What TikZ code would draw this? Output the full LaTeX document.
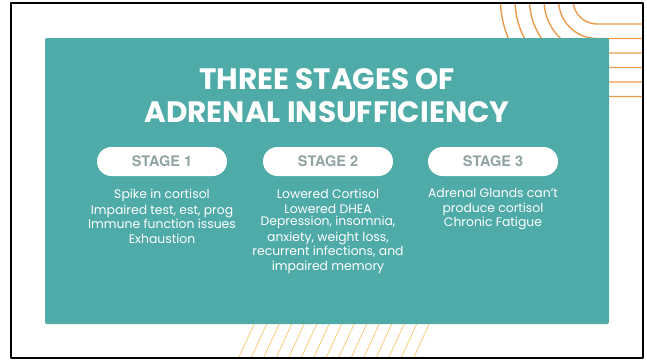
\documentclass[tikz,border=0pt]{standalone}
\usepackage{fontspec}
\setmainfont{Poppins}
\newfontfamily\stagefont{TeX Gyre Heros}
\definecolor{slideteal}{RGB}{79,171,167}
\definecolor{arcorange}{RGB}{235,154,75}
\definecolor{stripeyellow}{RGB}{245,205,122}
\definecolor{stagegray}{RGB}{143,163,163}
\begin{document}
\begin{tikzpicture}[x=1pt,y=1pt,line join=round,line cap=round,
	title/.style={text=white,inner sep=0pt,anchor=base,font=\bfseries\fontsize{29.5}{32}\selectfont},
	pill/.style={fill=white,rounded corners=14.5pt,minimum width=130pt,minimum height=29pt,inner sep=0pt,text=stagegray,font=\stagefont\bfseries\fontsize{14.5}{16}\selectfont},
	body/.style={text=white,align=center,anchor=north,inner sep=0pt,font=\fontsize{12.4}{12}\selectfont}]
	\useasboundingbox (0,0) rectangle (647,360);
	\begin{scope}
		\clip (11,2) rectangle (643,357);
		% arcs in the corner
		\foreach \r in {24,38.5,...,97}
		\draw[arcorange,line width=1.4pt] (597-\r,360) arc[start angle=180,end angle=270,radius=\r] -- (643,360-\r);
		% stripes under the card
		\foreach \k in {0,...,14}
		\draw[stripeyellow,line width=0.8pt] (256+12.5*\k,40)--(239+12.5*\k,3);
	\end{scope}
	\fill[slideteal,rounded corners=2pt] (45,36) rectangle (609,322);
	\draw[line width=2pt] (11,2) rectangle (643,357);
	\node[title] (ttl1) at (327,270.7) {THREE STAGES OF};
	\node[title] (ttl2) at (327,237.3) {ADRENAL INSUFFICIENCY};
	\node[pill] (st1) at (162,198.5) {STAGE 1};
	\node[pill] (st2) at (328,198.5) {STAGE 2};
	\node[pill] (st3) at (493,198.5) {STAGE 3};
	\node[body] (tx1) at (162,171.5) {Spike in cortisol\\[3pt] Impaired test, est, prog\\ Immune function issues\\[3pt] Exhaustion};
	\node[body] (tx2) at (328,171.5) {Lowered Cortisol\\[3pt] Lowered DHEA\\ Depression, insomnia,\\[3pt] anxiety, weight loss,\\ recurrent infections, and\\[3pt] impaired memory};
	\node[body] (tx3) at (493,171.5) {Adrenal Glands can’t\\[3pt] produce cortisol\\ Chronic Fatigue};
\end{tikzpicture}
\end{document}
